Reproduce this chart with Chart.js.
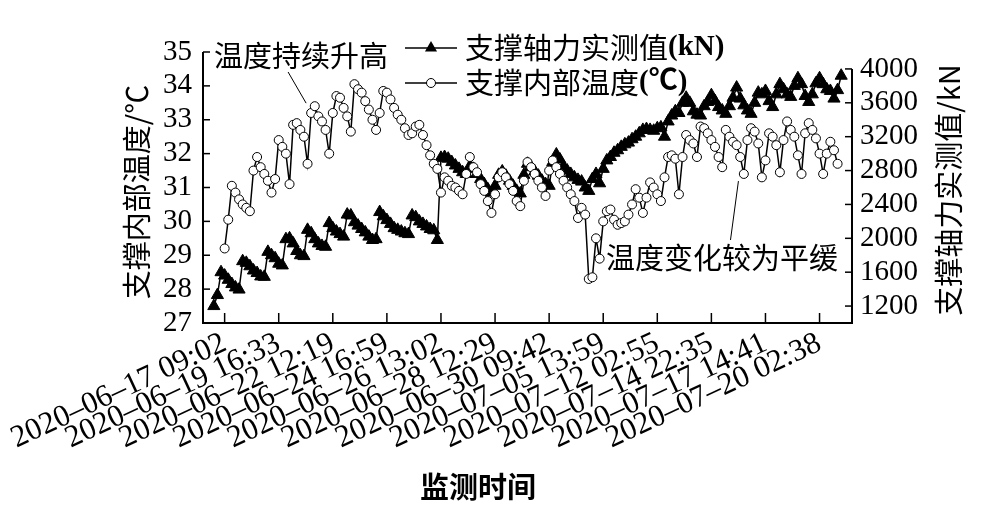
<!DOCTYPE html>
<html><head><meta charset="utf-8">
<script src="https://cdn.jsdelivr.net/npm/chart.js@4.4.1/dist/chart.umd.min.js"></script>
<style>html,body{margin:0;padding:0;background:#fff;}canvas{display:block}</style>
</head><body>
<canvas id="c" width="1004" height="529"></canvas>
<script>
// x positions: record index (0..180); labelled records
const labelIndex = [6,21,36,51,66,81,96,111,126,141,156,171];
const timeLabels = ['2020–06–17 09:02','2020–06–19 16:33','2020–06–22 12:19','2020–06–24 16:59',
  '2020–06–26 13:02','2020–06–28 12:29','2020–06–30 09:42','2020–07–05 13:59',
  '2020–07–12 02:55','2020–07–14 22:35','2020–07–17 14:41','2020–07–20 02:38'];
const tempTicks = [27,28,29,30,31,32,33,34,35];
const forceTicks = [1200,1600,2000,2400,2800,3200,3600,4000];

// 支撑轴力实测值 (kN)
const forceValues = [
 null,null,null,1200,1330,1600,1560,1510,1460,1420,
 1395,1730,1710,1670,1620,1590,1550,1545,1840,1800,
 1765,1700,1680,1990,2000,1940,1850,1800,1790,2100,
 2060,1990,1940,1910,1900,2180,2120,2080,2050,2020,
 2280,2270,2190,2150,2110,2070,2020,1980,1990,2310,
 2260,2215,2170,2120,2100,2080,2060,2050,2270,2250,
 2200,2170,2140,2110,2095,1980,2950,2960,2940,2900,
 2860,2820,2780,2760,2850,2820,2760,2700,2640,2580,
 2540,2620,2750,2790,2740,2680,2620,2560,2530,2750,
 2880,2840,2790,2740,2680,2640,2620,2900,2990,2930,
 2850,2800,2760,2720,2690,2670,2600,2560,2700,2760,
 2650,2820,2920,2960,3010,3040,3080,3110,3130,3170,
 3200,3240,3280,3290,3280,3270,3300,3310,3200,3380,
 3450,3500,3480,3600,3660,3600,3500,3460,3450,3560,
 3610,3690,3620,3550,3510,3470,3560,3660,3780,3650,
 3570,3510,3470,3600,3720,3700,3740,3620,3550,3700,
 3820,3760,3700,3670,3800,3890,3820,3680,3610,3700,
 3830,3890,3820,3760,3740,3650,3750,3920,null,null,
 null];

// 支撑内部温度 (℃)
const tempValues = [
 null,null,null,null,null,null,29.2,30.05,31.05,30.85,
 30.65,30.5,30.4,30.3,31.5,31.9,31.6,31.4,31.2,30.85,
 31.25,32.4,32.2,32.0,31.1,32.85,32.9,32.7,32.5,31.7,
 33.2,33.4,33.1,32.95,32.7,32.0,33.2,33.7,33.65,33.35,
 33.1,32.65,34.05,33.9,33.8,33.55,33.3,33.0,32.7,33.2,
 33.85,33.8,33.6,33.35,33.15,33.0,32.75,32.55,32.6,32.8,
 32.85,32.55,32.25,31.95,31.7,31.55,30.85,31.3,31.2,31.05,
 31.0,30.9,30.8,31.4,31.9,31.6,31.45,31.1,30.9,30.6,
 30.25,30.8,31.3,31.45,31.3,31.1,30.9,30.6,30.45,31.2,
 31.75,31.6,31.4,31.2,31.0,30.75,31.5,31.8,31.6,31.4,
 31.2,31.0,30.8,30.6,30.1,30.4,30.2,28.3,28.35,29.5,
 28.9,30.0,30.3,30.35,30.05,29.9,29.95,30.0,30.2,30.5,
 30.95,30.7,30.25,30.7,31.15,31.0,30.8,30.6,31.3,31.9,
 31.95,31.85,30.8,31.9,32.55,32.4,32.3,31.9,32.8,32.75,
 32.6,32.4,32.2,31.9,31.6,32.7,32.5,32.35,32.25,31.9,
 31.4,32.4,32.75,32.65,32.3,31.3,31.8,32.6,32.5,32.25,
 31.45,32.4,32.95,32.7,32.5,31.95,31.4,32.6,32.9,32.7,
 32.45,32.0,31.4,32.0,32.35,32.1,31.7,null,null,null,
 null];

const seriesNames = ['支撑轴力实测值', '支撑内部温度'];
const seriesUnits = ['(kN)', '(℃)'];
const notes = ['温度持续升高', '温度变化较为平缓'];

const toPts = arr => arr.map((v, i) => ({x: i, y: v}));
const SERIF = '"Liberation Serif", "Noto Sans CJK SC"';
const CJK = '"Noto Sans CJK SC", "Liberation Serif"';

function drawTri(ctx, x, y, r) {
  ctx.beginPath();
  ctx.moveTo(x, y - r);
  ctx.lineTo(x + r * 0.866, y + r * 0.5);
  ctx.lineTo(x - r * 0.866, y + r * 0.5);
  ctx.closePath();
  ctx.fill();
}

const decor = {
  id: 'decor',
  afterDraw(chart) {
    const {ctx, chartArea: a, scales} = chart;
    const X = scales.x, YL = scales.y, YR = scales.y2;
    const seg = (x1, y1, x2, y2) => { ctx.beginPath(); ctx.moveTo(x1, y1); ctx.lineTo(x2, y2); ctx.stroke(); };
    ctx.save();
    ctx.strokeStyle = '#000'; ctx.fillStyle = '#000';
    // axes frame (no top line; right axis starts at 4000)
    ctx.lineWidth = 2;
    ctx.beginPath();
    ctx.moveTo(a.left, a.top);
    ctx.lineTo(a.left, a.bottom);
    ctx.lineTo(a.right, a.bottom);
    ctx.lineTo(a.right, YR.getPixelForValue(4000));
    ctx.stroke();
    // inward tick marks
    ctx.lineWidth = 1.5;
    YL.ticks.forEach(t => { const p = YL.getPixelForValue(t.value); seg(a.left, p, a.left + 7, p); });
    YR.ticks.forEach(t => { const p = YR.getPixelForValue(t.value); seg(a.right - 7, p, a.right, p); });
    X.ticks.forEach(t => { const p = X.getPixelForValue(t.value); seg(p, a.bottom, p, a.bottom - 10); });

    // axis titles
    ctx.textAlign = 'center'; ctx.textBaseline = 'middle';
    ctx.font = '29px ' + CJK;
    ctx.save(); ctx.translate(137, 192); ctx.rotate(-Math.PI / 2); ctx.fillText('支撑内部温度/℃', 0, 0); ctx.restore();
    ctx.save(); ctx.translate(949, 190); ctx.rotate(-Math.PI / 2); ctx.fillText('支撑轴力实测值/kN', 0, 0); ctx.restore();
    ctx.font = 'bold 29px ' + CJK;
    ctx.fillText('监测时间', 478, 487);

    // legend
    ctx.lineWidth = 1.5;
    const lx1 = 405, lx2 = 457, lxm = 431;
    seg(lx1, 48, lx2, 48);
    drawTri(ctx, lxm, 48, 7);
    seg(lx1, 83, lx2, 83);
    ctx.beginPath(); ctx.arc(lxm, 83, 4.5, 0, Math.PI * 2); ctx.fillStyle = '#fff'; ctx.fill(); ctx.lineWidth = 1; ctx.stroke();
    ctx.fillStyle = '#000';
    ctx.textAlign = 'left';
    [48, 83].forEach((yy, k) => {
      ctx.font = '29px ' + CJK;
      ctx.fillText(seriesNames[k], 465, yy);
      const w = ctx.measureText(seriesNames[k]).width;
      ctx.font = 'bold 29px ' + SERIF;
      ctx.fillText(seriesUnits[k], 465 + w, yy);
    });

    // annotations
    ctx.font = '29px ' + CJK;
    ctx.fillText(notes[0], 214, 56);
    ctx.fillText(notes[1], 606, 258);
    ctx.lineWidth = 1;
    seg(X.getPixelForValue(23.6), YL.getPixelForValue(34.41), X.getPixelForValue(28.6), YL.getPixelForValue(33.49));
    seg(X.getPixelForValue(146.3), YL.getPixelForValue(29.45), X.getPixelForValue(148.5), YL.getPixelForValue(31.19));
    ctx.restore();
  }
};

const tickFont = {family: 'Liberation Serif', size: 29};

new Chart(document.getElementById('c'), {
  type: 'line',
  data: {
    datasets: [
      { label: seriesNames[1] + seriesUnits[1], data: toPts(tempValues), yAxisID: 'y',
        borderColor: '#000', borderWidth: 1.5, pointStyle: 'circle', pointRadius: 4.5,
        pointBackgroundColor: '#fff', pointBorderColor: '#000', pointBorderWidth: 1, tension: 0 },
      { label: seriesNames[0] + seriesUnits[0], data: toPts(forceValues), yAxisID: 'y2',
        borderColor: '#000', borderWidth: 1.5, pointStyle: 'triangle', pointRadius: 7,
        pointBackgroundColor: '#000', pointBorderColor: '#000', pointBorderWidth: 1, tension: 0 }
    ]
  },
  options: {
    responsive: false, animation: false, devicePixelRatio: 1,
    layout: {padding: {top: 52, left: 0, right: 0, bottom: 0}},
    plugins: {legend: {display: false}, tooltip: {enabled: false}},
    scales: {
      x: {
        type: 'linear', min: 0, max: 180,
        afterBuildTicks(s) { s.ticks = labelIndex.map(v => ({value: v})); },
        afterFit(s) { s.height = 206; s.paddingLeft = 0; s.paddingRight = 0; },
        ticks: { autoSkip: false, minRotation: 25, maxRotation: 25, padding: 2, color: '#000',
          font: {family: 'Liberation Serif', size: 31},
          callback(v) { const k = labelIndex.indexOf(v); return k >= 0 ? timeLabels[k] : ''; } },
        grid: {display: false, drawTicks: false}, border: {display: false}
      },
      y: {
        position: 'left', min: 27, max: 35,
        afterBuildTicks(s) { s.ticks = tempTicks.map(v => ({value: v})); },
        afterFit(s) { s.width = 203; s.paddingTop = 0; s.paddingBottom = 0; },
        ticks: {autoSkip: false, padding: 11, color: '#000', font: tickFont, callback: v => String(v)},
        grid: {display: false, drawTicks: false}, border: {display: false}
      },
      y2: {
        position: 'right', min: 1000, max: 4200,
        afterBuildTicks(s) { s.ticks = forceTicks.map(v => ({value: v})); },
        afterFit(s) { s.width = 152; s.paddingTop = 0; s.paddingBottom = 0; },
        ticks: {autoSkip: false, padding: 8, color: '#000', font: tickFont, callback: v => String(v)},
        grid: {display: false, drawTicks: false}, border: {display: false}
      }
    }
  },
  plugins: [decor]
});
</script>
</body></html>
